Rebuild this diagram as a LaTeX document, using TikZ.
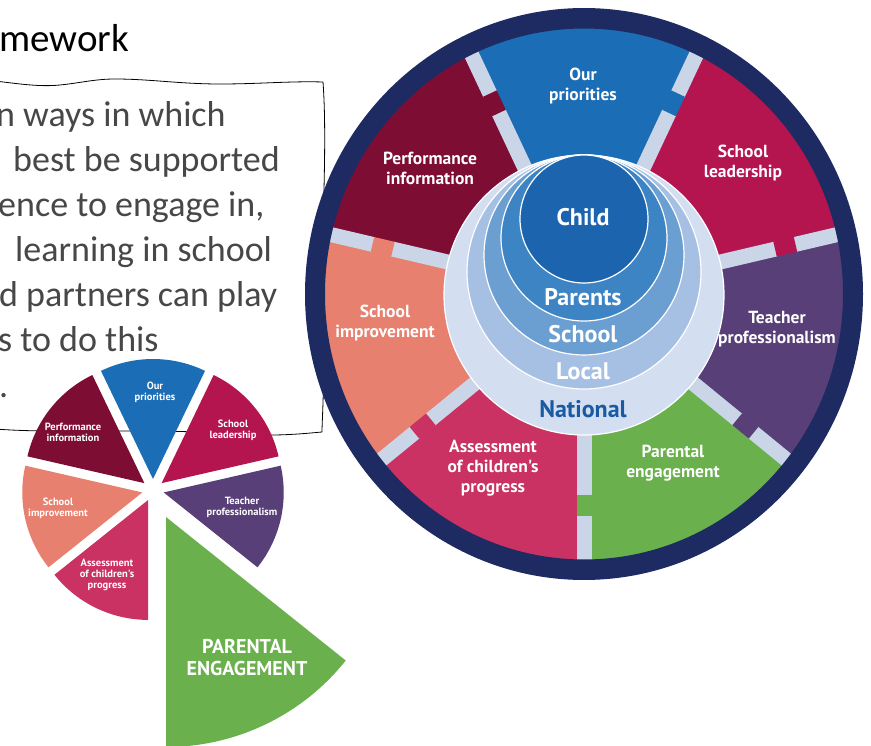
\documentclass[tikz,border=0pt]{standalone}
\usepackage{fontspec}
\setmainfont{Carlito}
\newfontfamily\wheelsans{PT Sans}
\usetikzlibrary{positioning}

\definecolor{navyring}{HTML}{1D2B62}
\definecolor{prioblue}{HTML}{1B6DB5}
\definecolor{leadred}{HTML}{B4154F}
\definecolor{teachpurple}{HTML}{583F78}
\definecolor{parentgreen}{HTML}{6AB04C}
\definecolor{assesspink}{HTML}{C93262}
\definecolor{improvecoral}{HTML}{E8806F}
\definecolor{perfmaroon}{HTML}{7E0D34}
\definecolor{barblue}{HTML}{CBD5E8}
\definecolor{childblue}{HTML}{1C65AE}
\definecolor{parentsblue}{HTML}{3D84C4}
\definecolor{schoolblue}{HTML}{6B9FD2}
\definecolor{localblue}{HTML}{A6C0E3}
\definecolor{nationalblue}{HTML}{D3DEF1}
\definecolor{nationaltext}{HTML}{1A5AA3}
\definecolor{bodygrey}{HTML}{474747}

\begin{document}
\begin{tikzpicture}[x=1pt, y=1pt,
  wheel/.style={font=\wheelsans\bfseries\fontsize{17.5}{20}\selectfont, text=white, align=center, inner sep=0pt},
  pie/.style={font=\wheelsans\bfseries\fontsize{10.5}{11}\selectfont, text=white, align=center, inner sep=0pt},
  ringtext/.style={font=\wheelsans\bfseries\fontsize{24}{26}\selectfont, text=white, inner sep=0pt},
  body/.style={anchor=base west, font=\fontsize{36}{44}\selectfont, text=bodygrey, inner sep=0pt},
  sepbar/.style={barblue, line width=15pt},
  layer/.style={draw=white, line width=1.2pt}]
  \useasboundingbox (0,0) rectangle (871,-746);
  \clip (0,0) rectangle (871,-746);

  % title and text box
  \node[anchor=base west, inner sep=0pt, font=\fontsize{39}{46}\selectfont] (title) at (-1,-52) {mework};
  \draw[line width=0.8pt] (-5,-81) .. controls (20,-84) and (40,-87) .. (60,-85)
    .. controls (80,-83) and (95,-79) .. (115,-79) .. controls (150,-79) and (180,-84) .. (220,-84)
    .. controls (260,-84) and (290,-81) .. (323,-82) .. controls (328,-150) and (320,-250) .. (323,-320)
    .. controls (325,-380) and (322,-420) .. (322,-432) .. controls (290,-435) and (270,-436) .. (240,-434)
    .. controls (150,-428) and (60,-434) .. (-5,-429);
  \node[body] (line1) at (-4,-127) {n ways in which};
  \node[body] (line2) at (13,-172) {best be supported};
  \node[body] (line3) at (-2,-217) {ence to engage in,};
  \node[body] (line4) at (15,-262) {learning in school};
  \node[body] (line5) at (-1,-307) {d partners can play};
  \node[body] (line6) at (-2,-352) {s to do this};
  \node[body] (line7) at (-1,-397) {.};

  % small exploded pie
  \begin{scope}[shift={(153,-490)}]
    \fill[parentgreen] (295.7:30) -- ++(270:230) arc[start angle=270, end angle=321.4, radius=230] -- cycle;
    \fill[teachpurple] (347.1:11) -- ++(321.4:120) arc[start angle=321.4, end angle=372.9, radius=120] -- cycle;
    \fill[leadred] (38.6:11) -- ++(12.9:120) arc[start angle=12.9, end angle=64.3, radius=120] -- cycle;
    \fill[prioblue] (90:11) -- ++(64.3:120) arc[start angle=64.3, end angle=115.7, radius=120] -- cycle;
    \fill[perfmaroon] (141.4:11) -- ++(115.7:120) arc[start angle=115.7, end angle=167.1, radius=120] -- cycle;
    \fill[improvecoral] (192.9:11) -- ++(167.1:120) arc[start angle=167.1, end angle=218.6, radius=120] -- cycle;
    \fill[assesspink] (244.3:11) -- ++(218.6:120) arc[start angle=218.6, end angle=270, radius=120] -- cycle;
  \end{scope}
  \node[pie] (sprio) at (155,-392) {Our\\priorities};
  \node[pie] (sperf) at (73,-432) {Performance\\information};
  \node[pie] (slead) at (233,-430) {School\\leadership};
  \node[pie] (steach) at (242,-507) {Teacher\\professionalism};
  \node[pie] (simprove) at (58,-508) {School\\improvement};
  \node[pie] (sassess) at (107,-575) {Assessment\\of children's\\progress};
  \node[pie, font=\wheelsans\bfseries\fontsize{20}{22}\selectfont] (sparental) at (247,-658) {PARENTAL\\ENGAGEMENT};

  % big wheel
  \begin{scope}[shift={(584,-294)}, yscale=1.025]
    \fill[parentgreen] (0,0) -- (270:262) arc[start angle=270, end angle=321.4, radius=262] -- cycle;
    \fill[teachpurple] (0,0) -- (321.4:262) arc[start angle=321.4, end angle=372.9, radius=262] -- cycle;
    \fill[leadred] (0,0) -- (12.9:262) arc[start angle=12.9, end angle=64.3, radius=262] -- cycle;
    \fill[prioblue] (0,0) -- (64.3:262) arc[start angle=64.3, end angle=115.7, radius=262] -- cycle;
    \fill[perfmaroon] (0,0) -- (115.7:262) arc[start angle=115.7, end angle=167.1, radius=262] -- cycle;
    \fill[improvecoral] (0,0) -- (167.1:262) arc[start angle=167.1, end angle=218.6, radius=262] -- cycle;
    \fill[assesspink] (0,0) -- (218.6:262) arc[start angle=218.6, end angle=270, radius=262] -- cycle;
    % separators, with the notch in the colour of the next segment
    \draw[sepbar] (270:120) -- (270:197) (270:216) -- (270:262);
    \draw[parentgreen, line width=15pt] (270:196) -- (270:217);
    \draw[sepbar] (321.4:120) -- (321.4:197) (321.4:216) -- (321.4:262);
    \draw[teachpurple, line width=15pt] (321.4:196) -- (321.4:217);
    \draw[sepbar] (12.9:120) -- (12.9:197) (12.9:216) -- (12.9:262);
    \draw[leadred, line width=15pt] (12.9:196) -- (12.9:217);
    \draw[sepbar] (64.3:120) -- (64.3:197) (64.3:216) -- (64.3:262);
    \draw[prioblue, line width=15pt] (64.3:196) -- (64.3:217);
    \draw[sepbar] (115.7:120) -- (115.7:197) (115.7:216) -- (115.7:262);
    \draw[perfmaroon, line width=15pt] (115.7:196) -- (115.7:217);
    \draw[sepbar] (167.1:120) -- (167.1:197) (167.1:216) -- (167.1:262);
    \draw[improvecoral, line width=15pt] (167.1:196) -- (167.1:217);
    \draw[sepbar] (218.6:120) -- (218.6:197) (218.6:216) -- (218.6:262);
    \draw[assesspink, line width=15pt] (218.6:196) -- (218.6:217);
    \fill[navyring, even odd rule] (0,0) circle (279) (0,0) circle (259);
  \end{scope}

  % nested circles, all touching at the top
  \filldraw[layer, fill=nationalblue] (584,-295) circle (140);
  \filldraw[layer, fill=localblue] (584,-272) circle (117);
  \filldraw[layer, fill=schoolblue] (584,-255) circle (100);
  \filldraw[layer, fill=parentsblue] (584,-238) circle (83);
  \filldraw[layer, fill=childblue] (584,-219) circle (64);
  \node[ringtext] (child) at (583,-217) {Child};
  \node[ringtext] (parents) at (583,-297) {Parents};
  \node[ringtext] (school) at (583,-334) {School};
  \node[ringtext] (local) at (583,-371) {Local};
  \node[ringtext, text=nationaltext] (national) at (583,-409) {National};

  \node[wheel] (prio) at (583,-86) {Our\\priorities};
  \node[wheel] (perf) at (430,-168) {Performance\\information};
  \node[wheel] (lead) at (743,-163) {School\\leadership};
  \node[wheel] (improve) at (385,-323) {School\\improvement};
  \node[wheel] (teach) at (777,-329) {Teacher\\professionalism};
  \node[wheel] (assess) at (493,-468) {Assessment\\of children's\\progress};
  \node[wheel] (parental) at (673,-463) {Parental\\engagement};
\end{tikzpicture}
\end{document}
